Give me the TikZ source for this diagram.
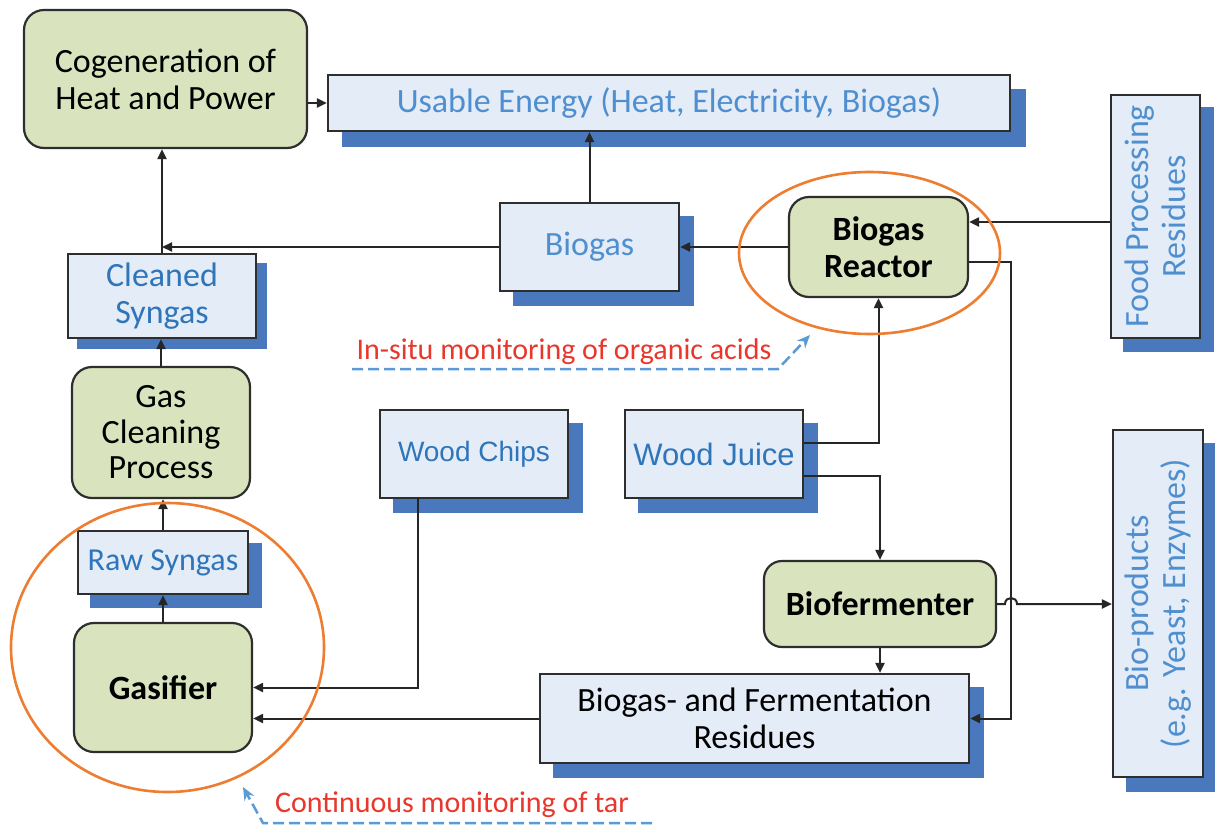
\documentclass[tikz,border=0pt]{standalone}
\usepackage{fontspec}
\setmainfont{Carlito}
\newfontfamily\arialf{Liberation Sans}
\usetikzlibrary{arrows.meta,shapes.geometric,calc,backgrounds}
\definecolor{greenfill}{HTML}{D9E4BF}
\definecolor{bluefill}{HTML}{E4ECF7}
\definecolor{shadowblue}{HTML}{4A78BC}
\definecolor{bordergray}{HTML}{2E2E2E}
\definecolor{txtblue}{HTML}{4F8FCF}
\definecolor{txtblue2}{HTML}{2F75BA}
\definecolor{annred}{HTML}{E8372C}
\definecolor{dashblue}{HTML}{5B9BD5}
\definecolor{ellorange}{HTML}{ED7D31}
\tikzset{
  greenbox/.style={draw=bordergray, line width=2.2pt, fill=greenfill, rounded corners=20pt, align=center, inner sep=0pt, text=black, font=\fontsize{34}{37}\selectfont},
  greenbold/.style={greenbox, font=\fontsize{34}{37}\selectfont\bfseries},
  bluebox/.style={draw=bordergray, line width=2.2pt, fill=bluefill, align=center, inner sep=0pt, text=txtblue, font=\fontsize{34}{37}\selectfont},
  conn/.style={draw=black!85, line width=2pt, -{Triangle[length=10pt,width=9pt]}},
  monitor/.style={draw=ellorange, line width=2.6pt, ellipse, inner sep=0pt},
  annot/.style={text=annred, font=\fontsize{30}{34}\selectfont, inner sep=0pt},
  dasharrow/.style={draw=dashblue, line width=2.5pt, dash pattern=on 11pt off 5pt, -{Stealth[length=13pt,width=11pt]}}
}
\begin{document}
\begin{tikzpicture}[x=1pt,y=-1pt]
\useasboundingbox (0,0) rectangle (1215,828);
% nodes
\node[greenbox, minimum width=283pt, minimum height=138pt] (cogen) at (165.5,79) {Cogeneration of\\Heat and Power};
\node[bluebox, minimum width=682pt, minimum height=56pt] (usable) at (669,103) {Usable Energy (Heat, Electricity, Biogas)};
\node[bluebox, rotate=90, minimum width=243pt, minimum height=89pt] (food) at (1155.5,216.5) {Food Processing\\Residues};
\node[greenbold, minimum width=179pt, minimum height=100pt] (reactor) at (878.5,247) {Biogas\\Reactor};
\node[bluebox, minimum width=179pt, minimum height=88pt] (biogas) at (589.5,247) {Biogas};
\node[bluebox, text=txtblue2, minimum width=188pt, minimum height=84pt] (cleaned) at (162,296) {Cleaned\\Syngas};
\node[greenbox, minimum width=178pt, minimum height=131pt, font=\fontsize{34}{35.5}\selectfont] (gasclean) at (161,432.5) {Gas\\Cleaning\\Process};
\node[bluebox, text=txtblue2, minimum width=170pt, minimum height=63pt, font=\fontsize{32}{35}\selectfont] (raw) at (163,562.5) {Raw Syngas};
\node[greenbold, minimum width=178pt, minimum height=129pt] (gasifier) at (163,687.5) {Gasifier};
\node[bluebox, text=txtblue2, minimum width=188pt, minimum height=88pt, font=\arialf\fontsize{28}{32}\selectfont] (chips) at (474,454) {Wood Chips};
\node[bluebox, text=txtblue2, minimum width=178pt, minimum height=88pt, font=\arialf\fontsize{31}{34}\selectfont] (juice) at (714,454) {Wood Juice};
\node[greenbold, minimum width=232pt, minimum height=86pt, rounded corners=18pt] (biofer) at (880,604) {Biofermenter};
\node[bluebox, text=black, minimum width=429pt, minimum height=89pt] (residues) at (754.5,718.5) {Biogas- and Fermentation\\Residues};
\node[bluebox, rotate=90, minimum width=347pt, minimum height=90pt] (bioprod) at (1158,603.5) {Bio-products\\(e.g. Yeast, Enzymes)};
% background and shadows
\begin{scope}[on background layer]
\fill[white] (0,0) rectangle (1215,828);
\foreach \n/\d in {usable/15, food/13, biogas/14, cleaned/10, raw/13, chips/14, juice/14, residues/14, bioprod/14}
  \fill[shadowblue] ($(\n.south west)+(\d,\d)$) rectangle ($(\n.north east)+(\d,\d)$);
\end{scope}
% coordinates
\coordinate (fr) at (1111,222);
\coordinate (rx) at (1011,262);
\coordinate (ja) at (803,443);
\coordinate (jb) at (803,476);
\coordinate (cx) at (418,498);
\coordinate (jmpA) at (1005,604);
\coordinate (jmpB) at (1017,604);
% connectors
\draw[conn] (usable.west -| cogen.east) -- (usable.west);
\draw[conn] (biogas.north) -- (biogas.north |- usable.south);
\draw[conn] (reactor.west) -- (biogas.east);
\draw[conn] (biogas.west) -- (biogas.west -| cleaned.north);
\draw[conn] (cleaned.north) -- (cleaned.north |- cogen.south);
\draw[conn] (gasclean.north) -- (gasclean.north |- cleaned.south);
\draw[conn] (raw.north) -- (raw.north |- gasclean.south);
\draw[conn] (gasifier.north) -- (gasifier.north |- raw.south);
\draw[conn] (fr -| food.north) -- (fr -| reactor.east);
\draw[conn] (rx -| reactor.east) -- (rx) -- (rx |- residues.east) -- (residues.east);
\draw[conn] (ja -| juice.east) -- (ja -| reactor.south) -- (reactor.south);
\draw[conn] (jb -| juice.east) -- (jb -| biofer.north) -- (biofer.north);
\draw[conn] (biofer.south) -- (biofer.south |- residues.north);
\draw[conn] (biofer.east) -- (jmpA) .. controls (1005,596) and (1017,596) .. (jmpB) -- (jmpB -| bioprod.north);
\draw[conn] (cx) |- (gasifier.east);
\draw[conn] (residues.west) -- (residues.west -| gasifier.east);
% monitoring ellipses
\node[monitor, minimum width=261pt, minimum height=162pt] (mon1) at (869.5,253) {};
\node[monitor, minimum width=313pt, minimum height=289pt] (mon2) at (167.5,647.5) {};
% annotations
\node[annot] (t1) at (564,352) {In-situ monitoring of organic acids};
\coordinate (d1s) at (352,369);
\coordinate (d1c) at (778,369);
\coordinate (d1e) at (810,335);
\draw[dasharrow] (d1s) -- (d1c) -- (d1e);
\node[annot] (t2) at (452,805) {Continuous monitoring of tar};
\coordinate (d2s) at (652,823);
\coordinate (d2c) at (263,823);
\coordinate (d2e) at (243,787);
\draw[dasharrow] (d2s) -- (d2c) -- (d2e);
\end{tikzpicture}
\end{document}
